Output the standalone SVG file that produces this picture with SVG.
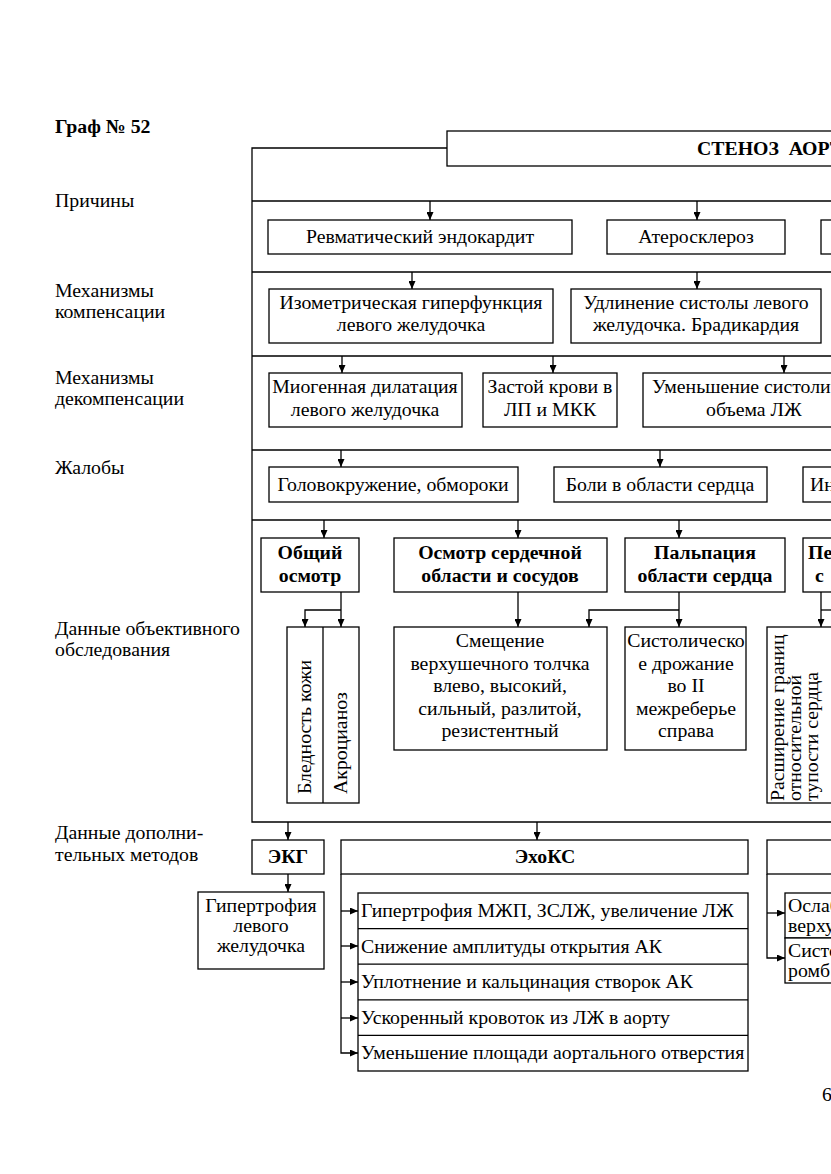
<svg xmlns="http://www.w3.org/2000/svg" width="831" height="1174" viewBox="0 0 831 1174">
<defs>
<marker id="ah" markerUnits="userSpaceOnUse" markerWidth="8" markerHeight="7" refX="8" refY="3.5" orient="auto"><path d="M0,0 L8,3.5 L0,7 z" fill="#000"/></marker>
</defs>
<style>
.b{fill:#fff;stroke:#000;stroke-width:1.3}
.l{fill:none;stroke:#000;stroke-width:1.3}
.a{fill:none;stroke:#000;stroke-width:1.3;marker-end:url(#ah)}
text{font-family:"Liberation Serif","Times New Roman",serif;font-size:19.8px;fill:#000}
.c{text-anchor:middle}
.bd{font-weight:bold}
</style>
<rect width="831" height="1174" fill="#fff"/>
<g id="labels">
<text x="55" y="133" class="bd">Граф № 52</text>
<text x="55" y="207">Причины</text>
<text x="55" y="297">Механизмы</text>
<text x="55" y="318">компенсации</text>
<text x="55" y="384">Механизмы</text>
<text x="55" y="405">декомпенсации</text>
<text x="55" y="474">Жалобы</text>
<text x="55" y="635">Данные объективного</text>
<text x="55" y="656">обследования</text>
<text x="55" y="839">Данные дополни-</text>
<text x="55" y="861">тельных методов</text>
<text x="822" y="1101">6</text>
</g>
<g id="connectors">
<path class="l" d="M447,148 H252 V822 H831"/>
<path class="l" d="M252,201 H831 M252,272 H831 M252,356 H831 M252,450 H831 M252,520 H831"/>
<path class="a" d="M430,201 V220"/>
<path class="a" d="M697,201 V220"/>
<path class="a" d="M412,272 V289"/>
<path class="a" d="M697,272 V289"/>
<path class="a" d="M342,356 V373"/>
<path class="a" d="M553,356 V373"/>
<path class="a" d="M784,356 V373"/>
<path class="a" d="M341,450 V467"/>
<path class="a" d="M660,450 V467"/>
<path class="a" d="M324,520 V538"/>
<path class="a" d="M518,520 V538"/>
<path class="a" d="M679,520 V538"/>
<path class="a" d="M341,592 V627"/>
<path class="a" d="M341,610 H305 V627"/>
<path class="a" d="M518,592 V627"/>
<path class="a" d="M679,592 V627"/>
<path class="a" d="M679,610 H589 V627"/>
<path class="a" d="M821,592 V627"/>
<path class="l" d="M821,610 H831"/>
<path class="a" d="M288,822 V840"/>
<path class="a" d="M537,822 V840"/>
<path class="a" d="M288,874 V892"/>
<path class="a" d="M341,874 V1053 H358"/>
<path class="a" d="M341,911 H358"/>
<path class="a" d="M341,946 H358"/>
<path class="a" d="M341,982 H358"/>
<path class="a" d="M341,1018 H358"/>
<path class="a" d="M767,874 V958 H785"/>
<path class="a" d="M767,913 H785"/>
</g>
<g id="title"><rect class="b" x="447" y="131" width="420" height="35"/><text x="697" y="155" class="bd">СТЕНОЗ&#160; АОРТ</text></g>
<g id="cause1"><rect class="b" x="268" y="220" width="304" height="34"/><text x="420" y="243" class="c">Ревматический эндокардит</text></g>
<g id="cause2"><rect class="b" x="607" y="220" width="178" height="34"/><text x="696" y="243" class="c">Атеросклероз</text></g>
<g id="cause3"><rect class="b" x="821" y="220" width="40" height="34"/></g>
<g id="comp1"><rect class="b" x="269" y="289" width="284" height="54"/><text x="411" y="309" class="c">Изометрическая гиперфункция</text><text x="411" y="331" class="c">левого желудочка</text></g>
<g id="comp2"><rect class="b" x="571" y="289" width="250" height="54"/><text x="696" y="309" class="c">Удлинение систолы левого</text><text x="696" y="331" class="c">желудочка. Брадикардия</text></g>
<g id="decomp1"><rect class="b" x="269" y="373" width="193" height="54"/><text x="365" y="393" class="c">Миогенная дилатация</text><text x="365" y="416" class="c">левого желудочка</text></g>
<g id="decomp2"><rect class="b" x="483" y="373" width="134" height="54"/><text x="550" y="393" class="c">Застой крови в</text><text x="550" y="416" class="c">ЛП и МКК</text></g>
<g id="decomp3"><rect class="b" x="643" y="373" width="210" height="54"/><text x="652" y="393">Уменьшение систолич</text><text x="706" y="416">объема ЛЖ</text></g>
<g id="compl1"><rect class="b" x="269" y="467" width="249" height="35"/><text x="393" y="491" class="c">Головокружение, обмороки</text></g>
<g id="compl2"><rect class="b" x="554" y="467" width="213" height="35"/><text x="660" y="491" class="c">Боли в области сердца</text></g>
<g id="compl3"><rect class="b" x="803" y="467" width="60" height="35"/><text x="810" y="491">Ин</text></g>
<g id="obj1"><rect class="b" x="261" y="538" width="98" height="54"/><text x="310" y="559" class="c bd">Общий</text><text x="310" y="582" class="c bd">осмотр</text></g>
<g id="obj2"><rect class="b" x="394" y="538" width="213" height="54"/><text x="500" y="559" class="c bd">Осмотр сердечной</text><text x="500" y="582" class="c bd">области и сосудов</text></g>
<g id="obj3"><rect class="b" x="625" y="538" width="160" height="54"/><text x="705" y="559" class="c bd">Пальпация</text><text x="705" y="582" class="c bd">области сердца</text></g>
<g id="obj4"><rect class="b" x="803" y="538" width="60" height="54"/><text x="808" y="559" class="bd">Пе</text><text x="815" y="582" class="bd">с</text></g>
<g id="skin"><rect class="b" x="287" y="627" width="72" height="176"/><path class="l" d="M323,627 V803"/><text transform="translate(311,794) rotate(-90)">Бледность кожи</text><text transform="translate(347,794) rotate(-90)">Акроцианоз</text></g>
<g id="apex"><rect class="b" x="394" y="627" width="213" height="123"/><text x="500" y="647" class="c">Смещение</text><text x="500" y="670" class="c">верхушечного толчка</text><text x="500" y="692" class="c">влево, высокий,</text><text x="500" y="715" class="c">сильный, разлитой,</text><text x="500" y="737" class="c">резистентный</text></g>
<g id="thrill"><rect class="b" x="625" y="627" width="121" height="123"/><text x="686" y="647" class="c">Систолическо</text><text x="686" y="670" class="c">е дрожание</text><text x="686" y="692" class="c">во II</text><text x="686" y="715" class="c">межреберье</text><text x="686" y="737" class="c">справа</text></g>
<g id="borders"><rect class="b" x="767" y="627" width="80" height="176"/><text transform="translate(784,801) rotate(-90)">Расширение границ</text><text transform="translate(801,801) rotate(-90)">относительной</text><text transform="translate(818,801) rotate(-90)">тупости сердца</text></g>
<g id="ekg"><rect class="b" x="252" y="840" width="72" height="34"/><text x="288" y="863" class="c bd">ЭКГ</text></g>
<g id="ekg1"><rect class="b" x="198" y="892" width="126" height="77"/><text x="261" y="912" class="c">Гипертрофия</text><text x="261" y="932" class="c">левого</text><text x="261" y="952" class="c">желудочка</text></g>
<g id="echo"><rect class="b" x="341" y="840" width="407" height="34"/><text x="545" y="863" class="c bd">ЭхоКС</text></g>
<g id="echolist"><rect class="b" x="358" y="893" width="390" height="178"/><path class="l" d="M358,928.6 H748 M358,964.2 H748 M358,999.8 H748 M358,1035.4 H748"/>
<text x="361" y="917">Гипертрофия МЖП, ЗСЛЖ, увеличение ЛЖ</text>
<text x="361" y="953">Снижение амплитуды открытия АК</text>
<text x="361" y="988">Уплотнение и кальцинация створок АК</text>
<text x="361" y="1024">Ускоренный кровоток из ЛЖ в аорту</text>
<text x="361" y="1059">Уменьшение площади аортального отверстия</text></g>
<g id="method3"><rect class="b" x="767" y="840" width="80" height="34"/></g>
<g id="method3list"><rect class="b" x="785" y="893" width="60" height="45"/><rect class="b" x="785" y="938" width="60" height="45"/><text x="788" y="912">Ослаб</text><text x="788" y="932">верху</text><text x="788" y="957">Систо</text><text x="788" y="977">ромб</text></g>
</svg>
